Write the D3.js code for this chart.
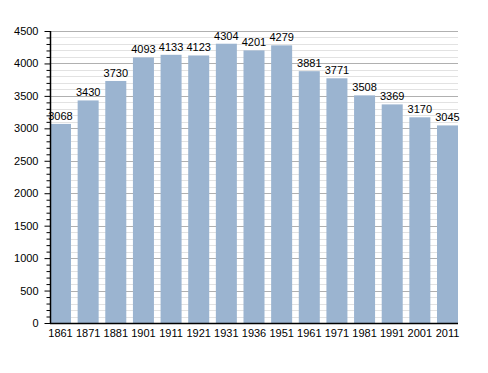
<!DOCTYPE html>
<html>
<head>
<meta charset="utf-8">
<script src="https://cdn.jsdelivr.net/npm/d3@7"></script>
<style>
  body { margin: 0; background: #fff; }
  text { font-family: "Liberation Sans", Arial, sans-serif; }
</style>
</head>
<body>
<div id="chart"></div>
<script>
var years = ["1861", "1871", "1881", "1901", "1911", "1921", "1931", "1936", "1951", "1961", "1971", "1981", "1991", "2001", "2011"];
var population = [3068, 3430, 3730, 4093, 4133, 4123, 4304, 4201, 4279, 3881, 3771, 3508, 3369, 3170, 3045];
var yTicks = [0, 500, 1000, 1500, 2000, 2500, 3000, 3500, 4000, 4500];

var W = 488, H = 373;
var plotL = 50, plotR = 458, plotT = 31, plotB = 323;

var svg = d3.select("#chart").append("svg")
    .attr("width", W)
    .attr("height", H);

var xScale = d3.scaleBand()
    .domain(years)
    .range([plotL, plotR])
    .paddingInner(0.24)
    .paddingOuter(0);

var yScale = d3.scaleLinear()
    .domain([0, 4500])
    .range([plotB, plotT]);

// minor grid every 100
var minor = d3.range(100, 4501, 100).filter(function(v) { return v % 500 != 0; });
svg.append("g").selectAll("line").data(minor).enter().append("line")
    .attr("x1", plotL).attr("x2", plotR)
    .attr("y1", function(d) { return Math.round(yScale(d)) + 0.5; })
    .attr("y2", function(d) { return Math.round(yScale(d)) + 0.5; })
    .attr("stroke", "#e2e2e2").attr("stroke-width", 1);

// major grid
svg.append("g").selectAll("line").data(yTicks.slice(1)).enter().append("line")
    .attr("x1", plotL).attr("x2", plotR)
    .attr("y1", function(d) { return Math.round(yScale(d)) + 0.5; })
    .attr("y2", function(d) { return Math.round(yScale(d)) + 0.5; })
    .attr("stroke", "#b0b0b0").attr("stroke-width", 1);

// bars
svg.append("g").selectAll("rect").data(population).enter().append("rect")
    .attr("x", function(d, i) { return xScale(years[i]); })
    .attr("y", function(d) { return yScale(d); })
    .attr("width", xScale.bandwidth())
    .attr("height", function(d) { return yScale(0) - yScale(d); })
    .attr("fill", "#9bb4d0");

// value labels
svg.append("g").selectAll("text").data(population).enter().append("text")
    .attr("x", function(d, i) { return xScale(years[i]) + xScale.bandwidth() / 2; })
    .attr("y", function(d) { return yScale(d) - 4; })
    .attr("text-anchor", "middle")
    .style("font-size", "11px")
    .attr("fill", "#000")
    .text(function(d) { return d; });

// y axis
var yAxis = d3.axisLeft(yScale)
    .tickValues(d3.range(0, 4501, 100))
    .tickSize(0)
    .tickFormat(function(d) { return d % 500 == 0 ? d : ""; });

var gy = svg.append("g")
    .attr("transform", "translate(" + (plotL + 0.5) + ",0)")
    .call(yAxis);
gy.select(".domain").remove();
gy.selectAll(".tick line")
    .attr("x2", function(d) { return d % 500 == 0 ? -6 : -4; })
    .attr("stroke", "#000");
gy.selectAll(".tick text")
    .attr("x", -12)
    .style("font-size", "11px")
    .style("font-family", "'Liberation Sans', Arial, sans-serif")
    .attr("fill", "#000");
svg.append("line")
    .attr("x1", plotL + 0.5).attr("x2", plotL + 0.5)
    .attr("y1", plotT).attr("y2", plotB + 1)
    .attr("stroke", "#000").attr("stroke-width", 1.5);

// x axis
var gx = svg.append("g")
    .attr("transform", "translate(0," + (plotB + 0.5) + ")")
    .call(d3.axisBottom(xScale).tickSize(0).tickPadding(6));
gx.select(".domain").remove();
gx.selectAll(".tick text")
    .style("font-size", "11px")
    .style("font-family", "'Liberation Sans', Arial, sans-serif")
    .attr("fill", "#000");
svg.append("line")
    .attr("x1", plotL).attr("x2", plotR)
    .attr("y1", plotB + 0.5).attr("y2", plotB + 0.5)
    .attr("stroke", "#000").attr("stroke-width", 1.5);
</script>
</body>
</html>
